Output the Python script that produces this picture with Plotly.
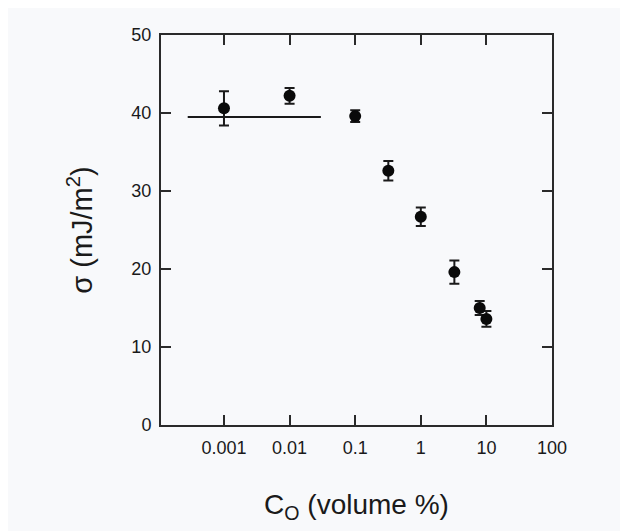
import plotly.graph_objects as go

conc = [0.001, 0.01, 0.1, 0.32, 1, 3.25, 7.9, 10]
sigma = [40.6, 42.2, 39.6, 32.6, 26.7, 19.6, 15.0, 13.6]
err = [2.2, 1.0, 0.75, 1.25, 1.2, 1.5, 0.9, 1.0]
line_x = [0.00028, 0.03]
line_y = [39.5, 39.5]
xtick_vals = [0.001, 0.01, 0.1, 1, 10, 100]
xtick_text = ["0.001", "0.01", "0.1", "1", "10", "100"]
ytick_vals = [0, 10, 20, 30, 40, 50]

fig = go.Figure()
fig.add_trace(go.Scatter(x=line_x, y=line_y, mode="lines",
                         line=dict(color="#1a1a1a", width=2), showlegend=False))
fig.add_trace(go.Scatter(x=conc, y=sigma, mode="markers",
                         marker=dict(color="#0a0a0a", size=12),
                         error_y=dict(type="data", array=err, color="#1a1a1a",
                                      thickness=2, width=5),
                         showlegend=False))

axis_common = dict(showline=True, linecolor="#2a2a2a", linewidth=2, mirror="ticks",
                   ticks="inside", ticklen=10, tickwidth=2, tickcolor="#2a2a2a",
                   showgrid=False, zeroline=False,
                   tickfont=dict(family="Liberation Sans, Arial", size=18, color="#1a1a1a"))

fig.update_layout(
    width=628, height=531,
    margin=dict(l=153, r=84, t=27, b=114),
    paper_bgcolor="#f8f9fb", plot_bgcolor="#f8f9fb",
    xaxis=dict(type="log", range=[-3.96, 2], tickvals=xtick_vals, ticktext=xtick_text,
               ticklabelstandoff=5,
               title=dict(text="C<sub>O</sub> (volume %)", standoff=38,
                          font=dict(family="Liberation Sans, Arial", size=28, color="#1a1a1a")),
               **axis_common),
    yaxis=dict(range=[0, 50], tickvals=ytick_vals, ticklabelstandoff=4,
               title=dict(text="σ (mJ/m<sup>2</sup>)", standoff=30,
                          font=dict(family="Liberation Sans, Arial", size=29, color="#1a1a1a")),
               **axis_common),
)
fig.write_html("out.html")
